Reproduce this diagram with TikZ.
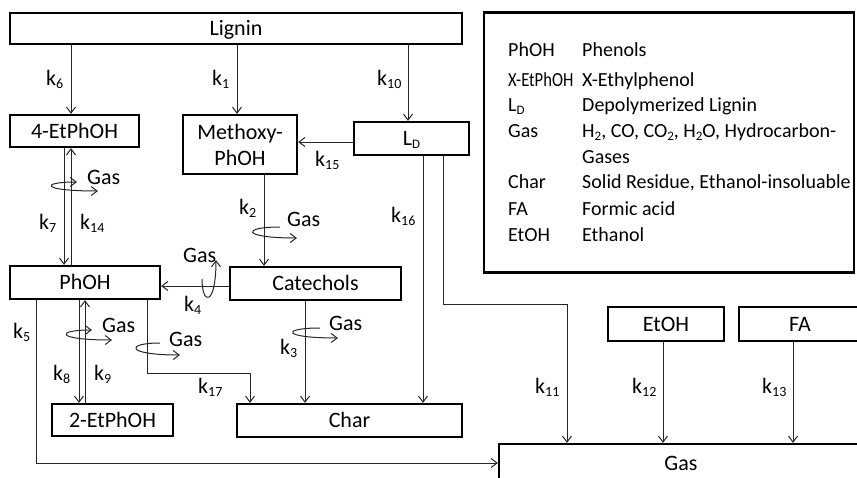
\documentclass[tikz,border=0pt]{standalone}
\usepackage{fontspec}
\usepackage{graphicx}
\setmainfont{Carlito}
\usetikzlibrary{arrows.meta}
\newcommand\kk[1]{k\raisebox{-3.5pt}{\fontsize{14}{14}\selectfont #1}}
\newcommand\lsub[1]{\raisebox{-3pt}{\fontsize{13}{13}\selectfont #1}}
\begin{document}
\begin{tikzpicture}[x=1pt,y=-1pt,
  box/.style={draw=black, line width=2.2pt, inner sep=0pt, text height=14pt, text depth=0pt, font=\fontsize{22}{26}\selectfont},
  conn/.style={line width=1pt, draw=black!85},
  arr/.style={conn, -{Straight Barb[length=6pt,width=9pt]}},
  barr/.style={conn, {Straight Barb[length=6pt,width=9pt]}-{Straight Barb[length=6pt,width=9pt]}},
  lab/.style={anchor=base west, inner sep=0pt, font=\fontsize{22}{26}\selectfont},
  leg/.style={anchor=base west, inner sep=0pt, font=\fontsize{20}{24}\selectfont},
]
\useasboundingbox (0,0) rectangle (857,477);
\begin{scope}
\clip (0,0) rectangle (857,477);
% boxes
\node[box, minimum width=452, minimum height=31] (lignin) at (236,28.5) {Lignin};
\node[box, minimum width=129, minimum height=32] (et4) at (74.5,131) {4-EtPhOH};
\node[box, minimum width=114, minimum height=59, text height=, text depth=, align=center] (meth) at (240,144.5) {Methoxy-\\PhOH};
\node[box, minimum width=115, minimum height=33] (ld) at (411.5,138.5) {L\lsub{D}};
\node[box, minimum width=150, minimum height=33] (phoh) at (85,282.5) {PhOH};
\node[box, minimum width=171, minimum height=33] (cat) at (315.5,283.5) {Catechols};
\node[box, minimum width=121, minimum height=32] (et2) at (112.5,420) {2-EtPhOH};
\node[box, minimum width=225, minimum height=33] (char) at (349.5,420.5) {Char};
\node[box, minimum width=116, minimum height=34] (etoh) at (666,324) {EtOH};
\node[box, minimum width=122, minimum height=34] (fa) at (800,324) {FA};
\node[box, minimum width=364, minimum height=38] (gas) at (681,463) {Gas};
\node[draw=black, line width=2.2pt, minimum width=370, minimum height=260, inner sep=0pt] (legend) at (669,142.5) {};

% column / row helpers
\foreach \x in {36,64,71,79,85,147,237,264,305,408,423,443,663,793}
  \coordinate (x\x) at (\x,0);
\coordinate (y142) at (0,142);
\coordinate (y286) at (0,286);
\coordinate (c17) at (250,373);
\coordinate (c11) at (567,304);

% connectors
\draw[arr] (lignin.south -| x71) -- (et4.north -| x71);
\draw[arr] (lignin.south -| x237) -- (meth.north -| x237);
\draw[arr] (lignin.south -| x408) -- (ld.north -| x408);
\draw[arr] (ld.west |- y142) -- (meth.east |- y142);
\draw[arr] (meth.south -| x264) -- (cat.north -| x264);
\draw[arr] (et4.south -| x64) -- (phoh.north -| x64);
\draw[arr] (phoh.north -| x71) -- (et4.south -| x71);
\draw[arr] (cat.west |- y286) -- (phoh.east |- y286);
\draw[arr] (phoh.south -| x36) |- (gas.west);
\draw[arr] (phoh.south -| x79) -- (et2.north -| x79);
\draw[arr] (et2.north -| x85) -- (phoh.south -| x85);
\draw[arr] (phoh.south -| x147) |- (c17) -- (char.north -| c17);
\draw[arr] (cat.south -| x305) -- (char.north -| x305);
\draw[arr] (ld.south -| x423) -- (char.north -| x423);
\draw[arr] (ld.south -| x443) |- (c11) -- (gas.north -| c11);
\draw[arr] (etoh.south -| x663) -- (gas.north -| x663);
\draw[arr] (fa.south -| x793) -- (gas.north -| x793);

% gas curls
\draw[barr] (77,182) .. controls (40,182) and (40,191) .. (98,191);
\draw[arr] (280,227) .. controls (241,227) and (241,238) .. (297,238);
\draw[arr] (202,279) .. controls (202,306) and (216,306) .. (216,260);
\draw[barr] (92,330) .. controls (55,330) and (55,340) .. (112,340);
\draw[arr] (160,343) .. controls (125,343) and (125,355) .. (180,355);
\draw[arr] (320,328) .. controls (281,328) and (281,338) .. (338,338);

% rate labels
\node[lab] (k6) at (46,85) {\kk{6}};
\node[lab] (k1) at (212,85) {\kk{1}};
\node[lab] (k10) at (377,85) {\kk{10}};
\node[lab] (k15) at (315,166) {\kk{15}};
\node[lab] (k7) at (39,229) {\kk{7}};
\node[lab] (k14) at (80,229) {\kk{14}};
\node[lab] (k2) at (239,214) {\kk{2}};
\node[lab] (k16) at (391,222) {\kk{16}};
\node[lab] (k4) at (184,311) {\kk{4}};
\node[lab] (k5) at (13,338) {\kk{5}};
\node[lab] (k8) at (53,380) {\kk{8}};
\node[lab] (k9) at (94,380) {\kk{9}};
\node[lab] (k17) at (198,393) {\kk{17}};
\node[lab] (k3) at (280,354) {\kk{3}};
\node[lab] (k11) at (535,393) {\kk{11}};
\node[lab] (k12) at (632,393) {\kk{12}};
\node[lab] (k13) at (762,393) {\kk{13}};

% gas labels
\node[lab] (g1) at (87,184) {Gas};
\node[lab] (g2) at (287,226) {Gas};
\node[lab] (g3) at (183,262) {Gas};
\node[lab] (g4) at (102,332) {Gas};
\node[lab] (g5) at (169,346) {Gas};
\node[lab] (g6) at (329,330) {Gas};

% legend
\node[leg] (l1a) at (508,56) {PhOH};
\node[leg] (l1b) at (582,56) {Phenols};
\node[leg] (l2a) at (508,86) {\scalebox{0.83}[1]{X-EtPhOH}};
\node[leg] (l2b) at (582,86) {X-Ethylphenol};
\node[leg] (l3a) at (508,111) {L\lsub{D}};
\node[leg] (l3b) at (582,111) {Depolymerized Lignin};
\node[leg] (l4a) at (508,137) {Gas};
\node[leg] (l4b) at (582,137) {H\lsub{2}, CO, CO\lsub{2}, H\lsub{2}O, Hydrocarbon-};
\node[leg] (l4c) at (582,163) {Gases};
\node[leg] (l5a) at (508,188) {Char};
\node[leg] (l5b) at (582,188) {Solid Residue, Ethanol-insoluable};
\node[leg] (l6a) at (508,215) {FA};
\node[leg] (l6b) at (582,215) {Formic acid};
\node[leg] (l7a) at (508,241) {EtOH};
\node[leg] (l7b) at (582,241) {Ethanol};
\end{scope}
\end{tikzpicture}
\end{document}
